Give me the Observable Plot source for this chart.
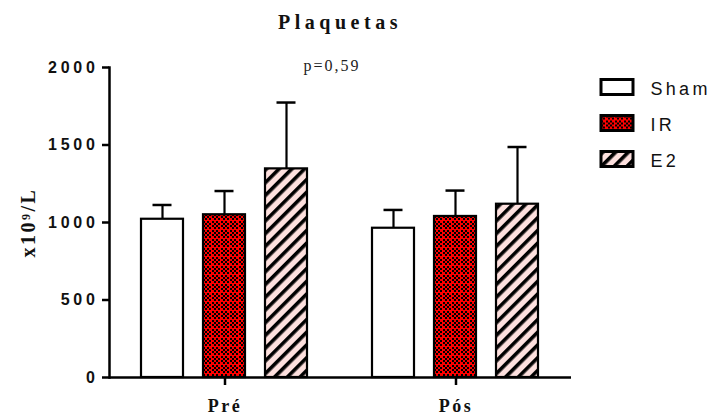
<!DOCTYPE html>
<html>
<head>
<meta charset="utf-8">
<script src="https://cdn.jsdelivr.net/npm/d3@7"></script>
<script src="https://cdn.jsdelivr.net/npm/@observablehq/plot@0.6"></script>
<style>
  body { margin: 0; background: #fff; }
  #chart { position: relative; width: 712px; height: 417px; overflow: hidden; }
  #chart > svg.main { position: absolute; left: 0; top: 0; }
  #title {
    position: absolute; left: 240px; top: 12px; width: 200px; text-align: center;
    font: bold 20px "Liberation Serif", "Times New Roman", serif; line-height: 20px;
    letter-spacing: 4.5px; color: #111;
  }
  #pval {
    position: absolute; left: 232px; top: 57.5px; width: 200px; text-align: center;
    font: 16px "Liberation Serif", "Times New Roman", serif; line-height: 16px;
    letter-spacing: 2px; color: #222;
  }
  #legend { position: absolute; left: 601px; top: 69px; width: 110px; }
  #legend .lg-swatches { margin: 0; font: 18px "Liberation Sans", Arial, sans-serif; letter-spacing: 3.3px; color: #111; }
  #legend .lg-swatch { height: 36px; padding: 0; display: flex; align-items: center; }
  #legend .lg-swatch > svg { margin-right: 17.5px; overflow: visible; }
  #legend .lg-swatch rect { stroke: #000; stroke-width: 3px; }
  #legend .lg-swatch-label { position: relative; top: 2.5px; overflow: visible; white-space: nowrap; text-overflow: clip; }
  g[aria-label="y-axis tick label"] text {
    font: bold 16px "Liberation Sans", Arial, sans-serif; letter-spacing: 3.7px; fill: #111;
  }
  g[aria-label="y-axis label"] text {
    font: bold 20px "Liberation Serif", "Times New Roman", serif; letter-spacing: 2.5px; fill: #111;
  }
  g[aria-label="fx-axis tick label"] text {
    font: bold 18px "Liberation Serif", "Times New Roman", serif; letter-spacing: 2.5px; fill: #111;
  }
</style>
</head>
<body>
<!-- fill patterns shared by the bars and the legend swatches -->
<svg width="0" height="0" style="position:absolute">
  <defs>
    <pattern id="checker" x="0" y="0" width="9" height="9" patternUnits="userSpaceOnUse">
      <g shape-rendering="crispEdges">
        <rect width="9" height="9" fill="#ff0000"/>
        <g fill="#000">
          <rect x="0" y="0" width="2" height="2"/>
          <rect x="2" y="2" width="2" height="2"/>
          <rect x="5" y="0" width="2" height="2"/>
          <rect x="7" y="2" width="2" height="2"/>
          <rect x="0" y="5" width="2" height="2"/>
          <rect x="2" y="7" width="2" height="2"/>
          <rect x="5" y="5" width="2" height="2"/>
          <rect x="7" y="7" width="2" height="2"/>
        </g>
      </g>
    </pattern>
    <pattern id="stripes" width="9" height="9" patternUnits="userSpaceOnUse" patternTransform="rotate(45)">
      <rect width="9" height="9" fill="#fde0de"/>
      <rect width="3.6" height="9" fill="#000"/>
    </pattern>
  </defs>
</svg>
<div id="chart">
  <div id="title">Plaquetas</div>
  <div id="pval">p=0,59</div>
  <div id="legend"></div>
</div>
<script>
// Platelet counts (x10^9/L), mean and SD per group, before and after
const periods = ["Pré", "Pós"];
const groups = ["Sham", "IR", "E2"];
const meanPre = [1021, 1050, 1346];
const sdPre = [92, 153, 428];
const meanPos = [963, 1039, 1118];
const sdPos = [118, 167, 369];
const yTicks = [0, 500, 1000, 1500, 2000];
const groupFills = ["#ffffff", "url(#checker)", "url(#stripes)"];

const rows = [
  ...groups.map((g, i) => ({period: periods[0], group: g, mean: meanPre[i], sd: sdPre[i]})),
  ...groups.map((g, i) => ({period: periods[1], group: g, mean: meanPos[i], sd: sdPos[i]}))
];

const chart = Plot.plot({
  width: 712,
  height: 417,
  marginTop: 67,
  marginBottom: 40,
  marginLeft: 109,
  marginRight: 141,
  style: {background: "transparent", overflow: "visible"},
  fx: {domain: periods, paddingInner: 0, paddingOuter: 0, label: null},
  x: {domain: groups, paddingInner: 0.317, paddingOuter: 0.492, axis: null},
  y: {domain: [0, 2000]},
  color: {domain: groups, range: groupFills},
  marks: [
    Plot.ruleY([0], {stroke: "#000", strokeWidth: 2.5}),
    Plot.frame({anchor: "left", facetAnchor: "left", stroke: "#000", strokeWidth: 2.5}),
    Plot.ruleX(rows, {fx: "period", x: "group", y1: "mean", y2: d => d.mean + d.sd, stroke: "#000", strokeWidth: 2.2}),
    Plot.tickY(rows, {fx: "period", x: "group", y: d => d.mean + d.sd, stroke: "#000", strokeWidth: 2.5, insetLeft: 11.5, insetRight: 11.5}),
    Plot.barY(rows, {fx: "period", x: "group", y: "mean", fill: "group", stroke: "#000", strokeWidth: 2.2}),
    Plot.axisY(yTicks, {
      anchor: "left", tickSize: 7, tickPadding: 4, strokeWidth: 2.5,
      tickFormat: d => String(d),
      label: "x10⁹/L", labelAnchor: "center", labelArrow: "none", labelOffset: 89
    }),
    Plot.axisFx({anchor: "bottom", tickSize: 8, tickPadding: 14, strokeWidth: 2.5, label: null})
  ]
});
chart.classList.add("main");
document.getElementById("chart").prepend(chart);

const legendEl = document.getElementById("legend");
legendEl.append(
  chart.legend("color", {legend: "swatches", columns: 1, swatchWidth: 32, swatchHeight: 15, className: "lg"})
);

// Snap the checkerboard tiles to whole pixels so the squares stay crisp:
// align the pattern origin with the bars, then nudge the legend by the same fraction.
const frac = v => v - Math.floor(v);
const barRect = chart.querySelector('g[aria-label="bar"] rect');
if (barRect) {
  const m = barRect.getScreenCTM();
  const checker = document.getElementById("checker");
  checker.setAttribute("x", -frac(m.e));
  checker.setAttribute("y", -frac(m.f));
  const swatch = legendEl.querySelector("svg");
  if (swatch) {
    const s = swatch.getScreenCTM();
    const dx = frac(m.e) - frac(s.e), dy = frac(m.f) - frac(s.f);
    legendEl.style.transform = `translate(${dx}px, ${dy}px)`;
  }
}
</script>
</body>
</html>
